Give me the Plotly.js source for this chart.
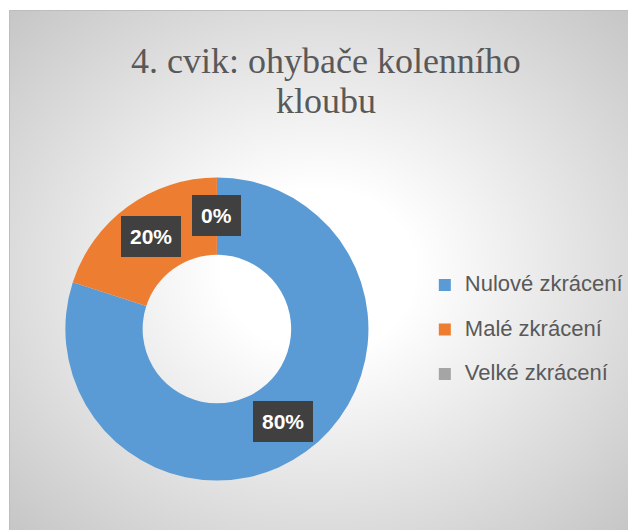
<!DOCTYPE html>
<html>
<head>
<meta charset="utf-8">
<script src="https://cdn.plot.ly/plotly-3.0.1.min.js"></script>
<style>
  html, body { margin:0; padding:0; background:#ffffff; }
  #wrap { position:relative; width:628px; height:530px; overflow:hidden; }
  #bg { position:absolute; left:9px; top:10px; width:619px; height:520px;
        border-top:1px solid #bdbdbd; border-left:1px solid #bdbdbd; box-sizing:border-box;
        background: radial-gradient(ellipse farthest-corner at 50% 50%, #ffffff 0%, #ffffff 22%, #c6c6c6 100%); }
  #chart { position:absolute; left:0; top:0; width:628px; height:530px; }
</style>
</head>
<body>
<div id="wrap"><div id="bg"></div><div id="chart"></div></div>
<script>
const categories = ["Nulové zkrácení", "Malé zkrácení", "Velké zkrácení"];
const values = [80, 20, 0];
const colors = ["#5B9BD5", "#ED7D31", "#A5A5A5"];
const titleLines = ["4. cvik: ohybače kolenního", "kloubu"];

const W = 628, H = 530;
// pie domain in pixels
const pLeft = 66, pRight = 372, pTop = 176, pBottom = 482;
const domX = [pLeft / W, pRight / W];
const domY = [1 - pBottom / H, 1 - pTop / H];
const cx = (pLeft + pRight) / 2, cy = (pTop + pBottom) / 2;
const R = (pRight - pLeft) / 2;

const total = values.reduce((a, b) => a + b, 0);
const annotations = [];
let cum = 0;
values.forEach((v, i) => {
  const mid = (cum + v / 2) / total * 2 * Math.PI; // clockwise from 12 o'clock
  cum += v;
  const r = R * 0.745;
  const px = cx + r * Math.sin(mid);
  const py = cy - r * Math.cos(mid);
  annotations.push({
    x: px / W, y: 1 - py / H, xref: "paper", yref: "paper",
    xanchor: "center", yanchor: "middle", showarrow: false,
    text: "<b>" + Math.round(v / total * 100) + "%</b>",
    font: { family: "Liberation Sans, Arial, sans-serif", size: 21, color: "#ffffff" },
    bgcolor: "#404040", borderpad: 9, borderwidth: 0
  });
});

const big = (s, px) => "<span style='font-size:" + px + "px'>" + s + "</span>";

const trace = {
  type: "pie",
  labels: categories.map(c => big(c, 22) + "<br> "),
  values: values,
  hole: 0.49,
  sort: false,
  direction: "clockwise",
  rotation: 0,
  marker: { colors: colors, line: { width: 0 } },
  textinfo: "none",
  domain: { x: domX, y: domY },
  hoverinfo: "percent"
};

const layout = {
  width: W, height: H,
  margin: { l: 0, r: 0, t: 0, b: 0 },
  paper_bgcolor: "rgba(0,0,0,0)",
  plot_bgcolor: "rgba(0,0,0,0)",
  title: {
    text: titleLines.map(l => big(l, 36)).join("<br>"),
    x: 0.519, xanchor: "center",
    y: 1 - 73 / H, yanchor: "middle",
    font: { family: "Liberation Serif, Times New Roman, serif", size: 31, color: "#595959" }
  },
  showlegend: true,
  legend: {
    x: 0.683, y: 1 - 268 / H, xanchor: "left", yanchor: "top",
    valign: "top",
    font: { family: "Liberation Sans, Arial, sans-serif", size: 16, color: "#595959" },
    bgcolor: "rgba(0,0,0,0)", itemclick: false, itemdoubleclick: false
  },
  annotations: annotations
};

Plotly.newPlot("chart", [trace], layout, { displayModeBar: false, staticPlot: true });
</script>
</body>
</html>
